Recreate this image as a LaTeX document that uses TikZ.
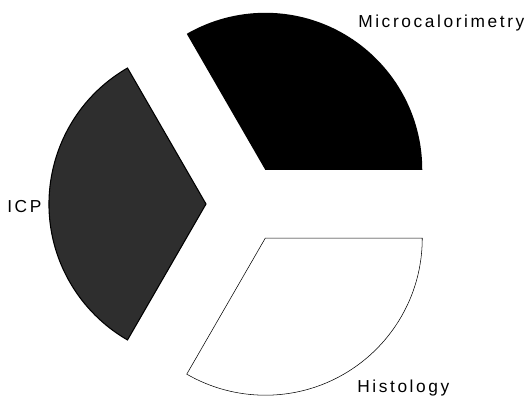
\documentclass[tikz,border=0pt]{standalone}
\usepackage{fontspec}
\setmainfont{Liberation Sans}[LetterSpace=15]
\usepackage{xcolor}
\definecolor{Hachure}{HTML}{2E2E2E}
\tikzset{label/.style={inner sep=0pt,anchor=base west,font=\fontsize{13}{15}\selectfont}}

\begin{document}
\begin{tikzpicture}[x=0.75pt,y=0.75pt]
\useasboundingbox (0,0) rectangle (530,402);

% Secteur noir
\fill[black] (265.25,232.2) -- ++(0:157) arc[start angle=0,end angle=120,radius=157] -- cycle;
\node[label] (mcal) at (358,374) {Microcalorimetry};

% Secteur gris
\draw[fill=Hachure,draw=black,thick] (206,198) -- ++(120:157) arc[start angle=120,end angle=240,radius=157] -- cycle;
\node[label] (icp) at (7,189) {ICP};

% Secteur blanc
\draw[fill=white,draw=black,thin] (265.25,163.8) -- ++(0:157) arc[start angle=0,end angle=-120,radius=157] -- cycle;
\node[label] (histo) at (357,9) {Histology};
\end{tikzpicture}
\end{document}
